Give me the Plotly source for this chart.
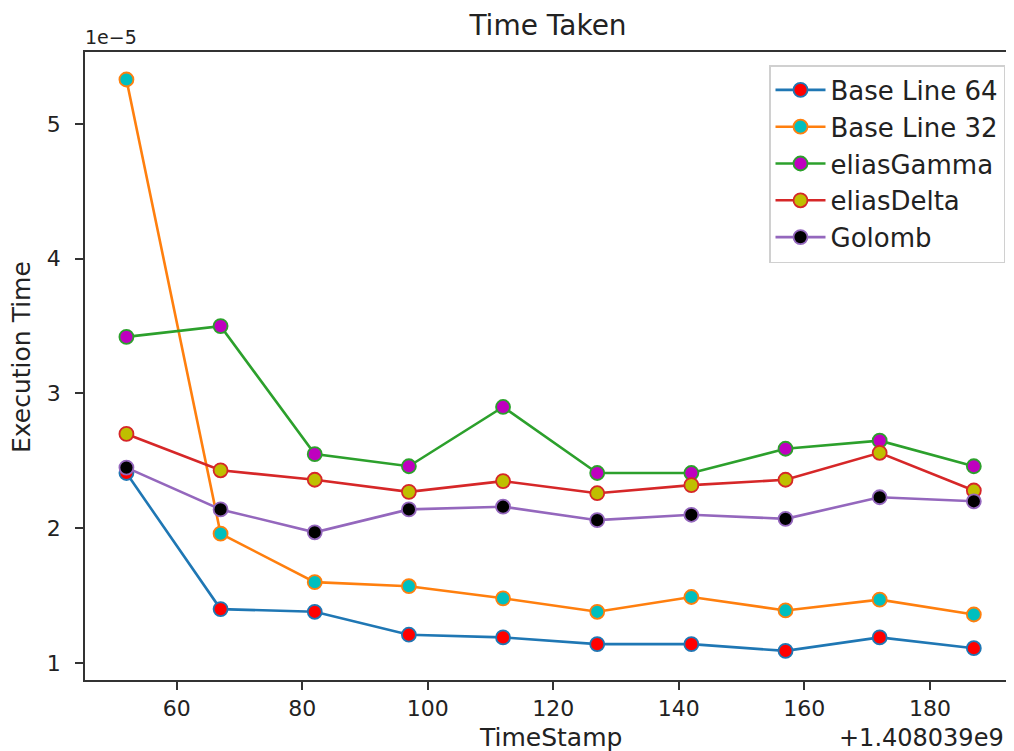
import plotly.graph_objects as go

# ---- data ----
TIME_BASE = 1408039000           # offset shown as "+1.408039e9"
timestamps = [1408039052, 1408039067, 1408039082, 1408039097, 1408039112,
              1408039127, 1408039142, 1408039157, 1408039172, 1408039187]
Y_SCALE_LABEL = "1e\u22125"        # values below are in units of 1e-5 s

base_line_64 = [2.41, 1.40, 1.38, 1.21, 1.19, 1.14, 1.14, 1.09, 1.19, 1.11]
base_line_32 = [5.33, 1.96, 1.60, 1.57, 1.48, 1.38, 1.49, 1.39, 1.47, 1.36]
elias_gamma  = [3.42, 3.50, 2.55, 2.46, 2.90, 2.41, 2.41, 2.59, 2.65, 2.46]
elias_delta  = [2.70, 2.43, 2.36, 2.27, 2.35, 2.26, 2.32, 2.36, 2.56, 2.28]
golomb       = [2.45, 2.14, 1.97, 2.14, 2.16, 2.06, 2.10, 2.07, 2.23, 2.20]

series_names = ["Base Line 64", "Base Line 32", "eliasGamma", "eliasDelta", "Golomb"]
series_values = [base_line_64, base_line_32, elias_gamma, elias_delta, golomb]
line_colors = ["#1f77b4", "#ff7f0e", "#2ca02c", "#d62728", "#9467bd"]
face_colors = ["#ff0000", "#00bfbf", "#bf00bf", "#bfbf00", "#000000"]

x_ticks = [60, 80, 100, 120, 140, 160, 180]
y_ticks = [1, 2, 3, 4, 5]

FONT = "DejaVu Sans"
TXT = "#222222"
x_vals = [t - TIME_BASE for t in timestamps]

# The page has an 8px body margin, so the figure is 8px smaller and all
# screen targets are shifted by 8px.
OFF = 8
W, H = 1014 - OFF, 751 - OFF
L, R, T, B = 85 - OFF, 0, 52 - OFF, 71
PW, PH = W - L - R, H - T - B


def px(sx):   # screen x -> paper x
    return (sx - OFF - L) / PW


def py(sy):   # screen y -> paper y
    return (H - B - (sy - OFF)) / PH


fig = go.Figure()
for name, vals, lc, fc in zip(series_names, series_values, line_colors, face_colors):
    fig.add_trace(go.Scatter(
        x=x_vals, y=vals, name=name, mode="lines+markers",
        line=dict(color=lc, width=2.6),
        marker=dict(color=fc, size=14, line=dict(color=lc, width=1.8)),
    ))

fig.update_layout(
    width=W, height=H,
    margin=dict(l=L, r=R, t=T, b=B, autoexpand=False),
    paper_bgcolor="white", plot_bgcolor="white",
    font=dict(family=FONT, color=TXT, size=22),
    title=dict(text="Time Taken", x=(548 - OFF) / W, xanchor="center",
               y=1 - (25 - OFF) / H, yanchor="middle",
               font=dict(size=28, family=FONT, color=TXT)),
    showlegend=True,
    legend=dict(x=px(1005), xanchor="right", y=py(65), yanchor="top",
                bgcolor="rgba(255,255,255,0.85)", bordercolor="#d0d0d0",
                borderwidth=1.5, font=dict(size=26, family=FONT, color=TXT),
                itemwidth=50),
)

fig.update_xaxes(
    range=[45.4, 193.4], tickmode="array", tickvals=x_ticks,
    ticks="outside", ticklen=8, tickwidth=1.5, tickcolor="#333333",
    showline=True, linecolor="#333333", linewidth=1.8, mirror=True,
    showgrid=False, zeroline=False, automargin=False,
    tickfont=dict(size=22, family=FONT, color=TXT),
)
fig.update_yaxes(
    range=[0.874, 5.534], tickmode="array", tickvals=y_ticks,
    ticks="outside", ticklen=8, tickwidth=1.5, tickcolor="#333333",
    showline=True, linecolor="#333333", linewidth=1.8,
    showgrid=False, zeroline=False, automargin=False,
    tickfont=dict(size=22, family=FONT, color=TXT),
    ticklabelstandoff=10,
)

# axis titles
fig.add_annotation(text="TimeStamp", xref="paper", yref="paper",
                   x=px(550), y=py(737),
                   xanchor="center", yanchor="middle", showarrow=False,
                   font=dict(size=25, family=FONT, color=TXT))
fig.add_annotation(text="Execution Time", xref="paper", yref="paper",
                   x=px(22), y=py(357), textangle=-90,
                   xanchor="center", yanchor="middle", showarrow=False,
                   font=dict(size=25, family=FONT, color=TXT))

# matplotlib-style offset texts
fig.add_annotation(text=Y_SCALE_LABEL, xref="paper", yref="paper",
                   x=px(83), y=py(37), xanchor="left", yanchor="middle",
                   showarrow=False, font=dict(size=19, family=FONT, color=TXT))
fig.add_annotation(text="+%.6fe9" % (TIME_BASE / 1e9), xref="paper", yref="paper",
                   x=px(1006), y=py(738),
                   xanchor="right", yanchor="middle",
                   showarrow=False, font=dict(size=24, family=FONT, color=TXT))

fig.write_html("out.html")
